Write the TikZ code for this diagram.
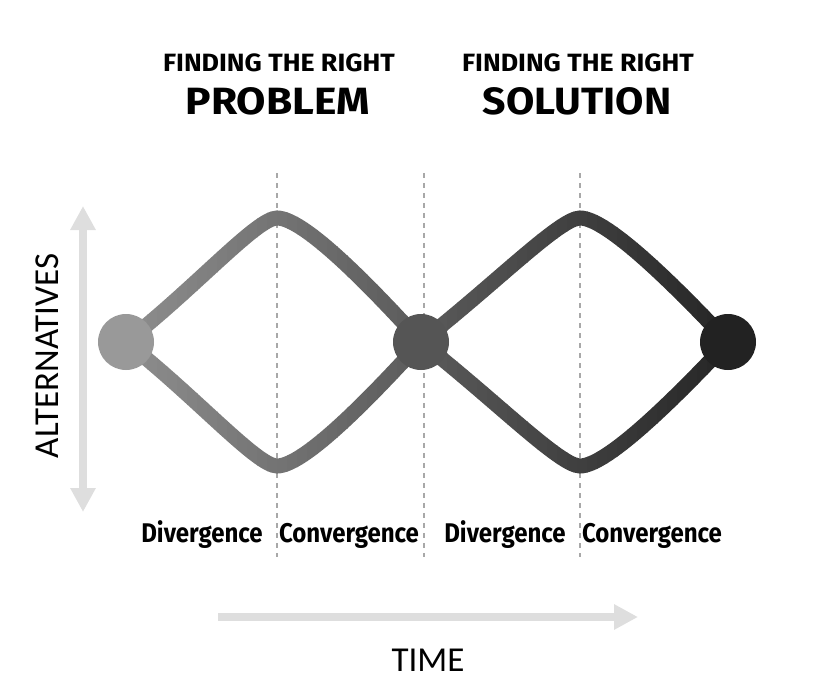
\documentclass[tikz,border=0pt]{standalone}
\usepackage{fontspec}
\setmainfont{Carlito}
\newfontfamily\comic{Fira Sans}
\usetikzlibrary{arrows.meta}
\definecolor{axisgray}{HTML}{DEDEDE}
\definecolor{dashgray}{HTML}{A8A8A8}
\definecolor{startgray}{HTML}{999999}
\definecolor{midgray}{HTML}{555555}
\definecolor{endgray}{HTML}{222222}
\definecolor{gradleft}{HTML}{8F8F8F}
\definecolor{gradright}{HTML}{242424}
\tikzset{
  axisarrow/.style={draw=axisgray, line width=8pt, -{Triangle[width=24pt,length=24pt]}},
  guide/.style={draw=dashgray, line width=1.1pt, dash pattern=on 5pt off 5pt},
  wave/.style={line width=15pt},
  dot/.style={circle, minimum size=56pt, inner sep=0pt},
  phase/.style={font=\comic\bfseries\fontsize{27}{30}\selectfont, anchor=base, inner sep=0pt},
  titlesmall/.style={font=\comic\bfseries\fontsize{25}{28}\selectfont, anchor=base, inner sep=0pt},
  titlebig/.style={font=\comic\bfseries\fontsize{38}{42}\selectfont, anchor=base, inner sep=0pt},
  axislabel/.style={font=\fontsize{35}{38}\selectfont, anchor=base, inner sep=0pt}
}
\begin{document}
\begin{tikzpicture}[x=1pt,y=-1pt]
\useasboundingbox (0,0) rectangle (830,698);

% guide lines
\coordinate (g1t) at (277,173); \coordinate (g1b) at (277,557);
\coordinate (g2t) at (424,173); \coordinate (g2b) at (424,557);
\coordinate (g3t) at (580,173); \coordinate (g3b) at (580,557);
\draw[guide] (g1t) -- (g1b);
\draw[guide] (g2t) -- (g2b);
\draw[guide] (g3t) -- (g3b);

% axes
\coordinate (vtop) at (83,206);
\coordinate (vbot) at (83,512);
\draw[axisarrow, {Triangle[width=24pt,length=24pt]}-{Triangle[width=24pt,length=24pt]}] (vbot) -- (vtop);
\coordinate (hstart) at (218,617);
\coordinate (hend) at (638,617);
\draw[axisarrow] (hstart) -- (hend);

% circle positions and wave apexes
\node[dot] (c1) at (126,342) {};
\node[dot] (c2) at (421,342) {};
\node[dot] (c3) at (728,342) {};
\coordinate (p1t) at (277,218);
\coordinate (p1b) at (277,466);
\coordinate (p2t) at (580,218);
\coordinate (p2b) at (580,466);

% waves, coloured by thin vertical strips (left-to-right gradient)
\foreach \i in {0,...,61}{
  \pgfmathsetmacro{\xa}{117+10*\i}
  \pgfmathsetmacro{\xb}{117+10*\i+10.6}
  \pgfmathsetmacro{\pc}{(10*\i+5)/6.2}
  \begin{scope}
    \clip (\xa,190) rectangle (\xb,495);
    \draw[wave, draw=gradright!\pc!gradleft]
      (c1.center) .. controls +(70,-55) and +(-20,0) .. (p1t)
                  .. controls +(25,0) and +(-60,-66) .. (c2.center);
    \draw[wave, draw=gradright!\pc!gradleft]
      (c1.center) .. controls +(70,55) and +(-20,0) .. (p1b)
                  .. controls +(25,0) and +(-60,66) .. (c2.center);
    \draw[wave, draw=gradright!\pc!gradleft]
      (c2.center) .. controls +(74,-58) and +(-20,0) .. (p2t)
                  .. controls +(25,0) and +(-62,-66) .. (c3.center);
    \draw[wave, draw=gradright!\pc!gradleft]
      (c2.center) .. controls +(74,58) and +(-20,0) .. (p2b)
                  .. controls +(25,0) and +(-62,66) .. (c3.center);
  \end{scope}
}

% circles on top
\fill[startgray] (c1) circle (28pt);
\fill[midgray] (c2) circle (28pt);
\fill[endgray] (c3) circle (28pt);

% titles
\node[titlesmall] (t1a) at (279,72) {\scalebox{1.07}[1]{FINDING THE RIGHT}};
\node[titlebig] (t1b) at (278,115) {\scalebox{1.12}[1]{PROBLEM}};
\node[titlesmall] (t2a) at (578,72) {\scalebox{1.07}[1]{FINDING THE RIGHT}};
\node[titlebig] (t2b) at (577,115) {\scalebox{1.08}[1]{SOLUTION}};

% phase labels
\node[phase] (d1) at (202,542) {\scalebox{0.89}[1]{Divergence}};
\node[phase] (k1) at (349,542) {\scalebox{0.89}[1]{Convergence}};
\node[phase] (d2) at (505,542) {\scalebox{0.89}[1]{Divergence}};
\node[phase] (k2) at (652,542) {\scalebox{0.89}[1]{Convergence}};

% axis labels
\node[axislabel] (time) at (428,671) {TIME};
\node[axislabel, rotate=90] (alt) at (58,356) {ALTERNATIVES};
\end{tikzpicture}
\end{document}
